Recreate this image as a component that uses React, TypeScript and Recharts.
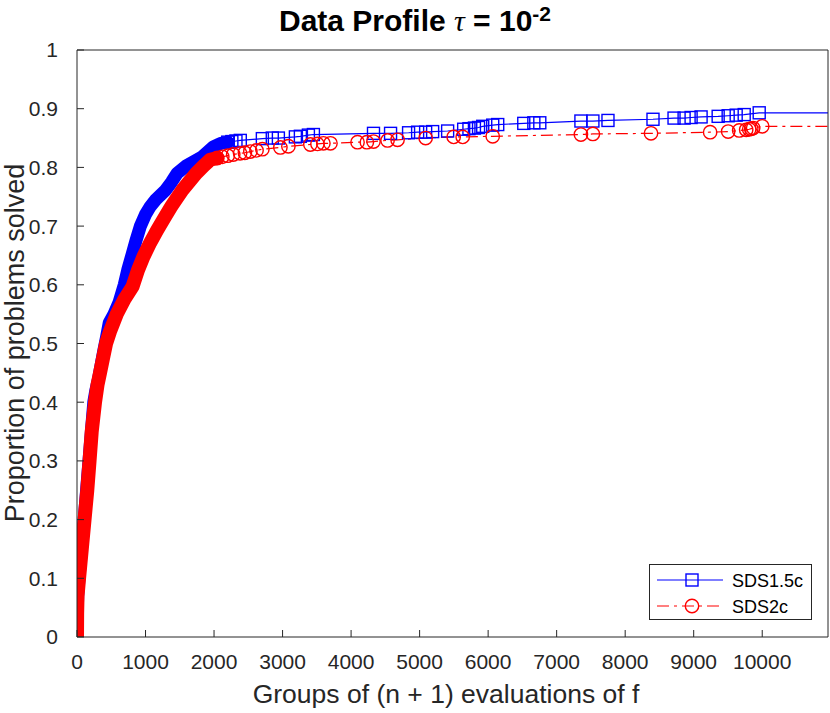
import React from "react";
import { Line, LineChart, XAxis, YAxis } from "recharts";

const X_MAX = 10960;
const xTicks = [0, 1000, 2000, 3000, 4000, 5000, 6000, 7000, 8000, 9000, 10000];
const yTicks = [0, 0.1, 0.2, 0.3, 0.4, 0.5, 0.6, 0.7, 0.8, 0.9, 1];

// SDS1.5c — dense part (drawn as a solid band of overlapping markers)
const sds15DenseX = [0, 3, 10, 28, 65, 105, 140, 175, 210, 245, 275, 315, 355, 395, 430, 470, 540, 614, 690, 740, 800, 860, 925, 1000, 1067, 1150, 1290, 1380, 1462, 1600, 1827, 1990, 2100, 2200];
const sds15DenseY = [0, 0.04, 0.07, 0.1, 0.15, 0.2, 0.25, 0.3, 0.35, 0.4, 0.42, 0.44, 0.465, 0.49, 0.51, 0.535, 0.55, 0.57, 0.6, 0.625, 0.65, 0.675, 0.7, 0.72, 0.733, 0.745, 0.761, 0.775, 0.79, 0.803, 0.818, 0.835, 0.841, 0.843];
// SDS1.5c — sparse tail with individual markers
const sds15TailX = [2200, 2260, 2320, 2383, 2705, 2850, 2939, 3187, 3260, 3377, 3450, 4327, 4576, 4839, 4971, 5088, 5190, 5409, 5643, 5720, 5800, 5860, 5921, 6067, 6140, 6520, 6667, 6754, 7354, 7529, 7749, 8406, 8713, 8860, 8962, 9108, 9357, 9503, 9620, 9737, 9956, 10960];
const sds15TailY = [0.843, 0.844, 0.845, 0.846, 0.849, 0.85, 0.85, 0.852, 0.853, 0.855, 0.856, 0.858, 0.858, 0.859, 0.86, 0.86, 0.861, 0.862, 0.865, 0.866, 0.867, 0.868, 0.87, 0.872, 0.873, 0.875, 0.876, 0.876, 0.879, 0.879, 0.88, 0.882, 0.884, 0.884, 0.885, 0.886, 0.887, 0.888, 0.889, 0.89, 0.893, 0.893];

// SDS2c
const sds2DenseX = [0, 2, 8, 30, 70, 110, 150, 183, 215, 263, 300, 336, 380, 424, 480, 530, 580, 690, 811, 890, 970, 1070, 1170, 1270, 1374, 1460, 1535, 1640, 1740, 1860, 1944, 2047];
const sds2DenseY = [0, 0.04, 0.07, 0.1, 0.15, 0.2, 0.25, 0.3, 0.35, 0.4, 0.43, 0.45, 0.475, 0.5, 0.52, 0.535, 0.55, 0.575, 0.597, 0.625, 0.648, 0.672, 0.693, 0.713, 0.733, 0.748, 0.761, 0.776, 0.79, 0.804, 0.813, 0.816];
const sds2TailX = [2047, 2120, 2200, 2280, 2380, 2450, 2530, 2620, 2705, 2968, 3085, 3406, 3509, 3596, 3699, 4094, 4230, 4327, 4532, 4678, 5088, 5497, 5629, 6067, 7354, 7529, 8377, 9240, 9503, 9664, 9766, 9810, 9840, 9868, 10000, 10960];
const sds2TailY = [0.816, 0.818, 0.82, 0.822, 0.824, 0.825, 0.827, 0.829, 0.831, 0.834, 0.836, 0.839, 0.84, 0.841, 0.841, 0.843, 0.843, 0.844, 0.846, 0.847, 0.85, 0.852, 0.852, 0.853, 0.856, 0.857, 0.858, 0.86, 0.861, 0.863, 0.864, 0.865, 0.866, 0.867, 0.87, 0.87];

const rows = (xs: number[], ys: number[]) => xs.map((x, i) => ({ x, y: ys[i] }));

const BLUE = "#0000ff";
const RED = "#ff0000";
const INK = "#262626";
const FONT = "'Liberation Sans', Arial, Helvetica, sans-serif";

const squareDot = (last: number) => (props: any) => {
  const { cx, cy, index } = props;
  if (index === last || cx == null) return <g key={`s${index}`} />;
  return <rect key={`s${index}`} x={cx - 6} y={cy - 6} width={12} height={12} fill="none" stroke={BLUE} strokeWidth={1.4} />;
};

const circleDot = (last: number) => (props: any) => {
  const { cx, cy, index } = props;
  if (index === last || cx == null) return <g key={`c${index}`} />;
  return <circle key={`c${index}`} cx={cx} cy={cy} r={6.7} fill="none" stroke={RED} strokeWidth={1.4} strokeDasharray="none" />;
};

function LegendBox() {
  return (
    <div style={{ position: "absolute", left: 649, top: 564, width: 161, height: 54, border: `1px solid ${INK}`, background: "#fff" }}>
      <svg width={161} height={54}>
        <line x1={7} x2={73} y1={15} y2={15} stroke={BLUE} strokeWidth={1.2} />
        <rect x={36} y={9} width={12} height={12} fill="none" stroke={BLUE} strokeWidth={1.4} />
        <text x={82} y={21.5} fontSize={18} fontFamily={FONT} fill="#000">SDS1.5c</text>
        <line x1={7} x2={73} y1={41} y2={41} stroke={RED} strokeWidth={1.2} strokeDasharray="12 5 3 5" />
        <circle cx={42} cy={41} r={6.7} fill="none" stroke={RED} strokeWidth={1.4} />
        <text x={82} y={47.5} fontSize={18} fontFamily={FONT} fill="#000">SDS2c</text>
      </svg>
    </div>
  );
}

export default function App() {
  const axisCommon = { stroke: INK, tickLine: { stroke: INK }, axisLine: { stroke: INK } };
  return (
    <div style={{ position: "absolute", left: 0, top: 0, width: 830, height: 713, background: "#fff", fontFamily: FONT }}>
      <div style={{ position: "absolute", left: 0, top: 6, width: 830, textAlign: "center", fontSize: 30, fontWeight: "bold", lineHeight: 1, color: "#000", whiteSpace: "nowrap" }}>
        Data Profile <span style={{ fontFamily: "'Liberation Serif', serif", fontStyle: "italic", fontWeight: "normal" }}>τ</span> = 10
        <span style={{ fontSize: 21, position: "relative", top: -10 }}>-2</span>
      </div>
      <LineChart width={830} height={713} margin={{ top: 40, right: 1, bottom: 0, left: 0 }}>
        <XAxis xAxisId="bottom" type="number" dataKey="x" domain={[0, X_MAX]} ticks={xTicks} interval={0} allowDataOverflow height={76} tickSize={-7} tickMargin={24} {...axisCommon} tick={{ fill: INK, fontSize: 21, fontFamily: FONT }} />
        <XAxis xAxisId="top" orientation="top" type="number" dataKey="x" domain={[0, X_MAX]} ticks={xTicks} interval={0} allowDataOverflow height={10} tickSize={-7} tick={false} {...axisCommon} />
        <YAxis yAxisId="left" type="number" domain={[0, 1]} ticks={yTicks} interval={0} allowDataOverflow width={77} tickSize={-7} tickMargin={26} tickFormatter={(v) => String(v)} {...axisCommon} tick={{ fill: INK, fontSize: 21, fontFamily: FONT }} />
        <YAxis yAxisId="right" orientation="right" type="number" domain={[0, 1]} ticks={yTicks} interval={0} allowDataOverflow width={1} tickSize={-7} tick={false} {...axisCommon} />
        <Line xAxisId="bottom" yAxisId="left" data={rows(sds15DenseX, sds15DenseY)} dataKey="y" type="linear" stroke={BLUE} strokeWidth={13} strokeLinecap="round" strokeLinejoin="round" dot={false} isAnimationActive={false} />
        <Line xAxisId="bottom" yAxisId="left" data={rows(sds15TailX, sds15TailY)} dataKey="y" type="linear" stroke={BLUE} strokeWidth={1.2} dot={squareDot(sds15TailX.length - 1)} isAnimationActive={false} />
        <Line xAxisId="bottom" yAxisId="left" data={rows(sds2DenseX, sds2DenseY)} dataKey="y" type="linear" stroke={RED} strokeWidth={14} strokeLinecap="round" strokeLinejoin="round" dot={false} isAnimationActive={false} />
        <Line xAxisId="bottom" yAxisId="left" data={rows(sds2TailX, sds2TailY)} dataKey="y" type="linear" stroke={RED} strokeWidth={1.2} strokeDasharray="12 5 3 5" dot={circleDot(sds2TailX.length - 1)} isAnimationActive={false} />
      </LineChart>
      <div style={{ position: "absolute", left: 446, top: 681, transform: "translateX(-50%)", fontSize: 26.5, lineHeight: 1, color: INK, whiteSpace: "nowrap" }}>
        Groups of (n + 1) evaluations of f
      </div>
      <div style={{ position: "absolute", left: 15, top: 343, transform: "translate(-50%, -50%) rotate(-90deg)", fontSize: 27, lineHeight: 1, color: INK, whiteSpace: "nowrap" }}>
        Proportion of problems solved
      </div>
      <LegendBox />
    </div>
  );
}
